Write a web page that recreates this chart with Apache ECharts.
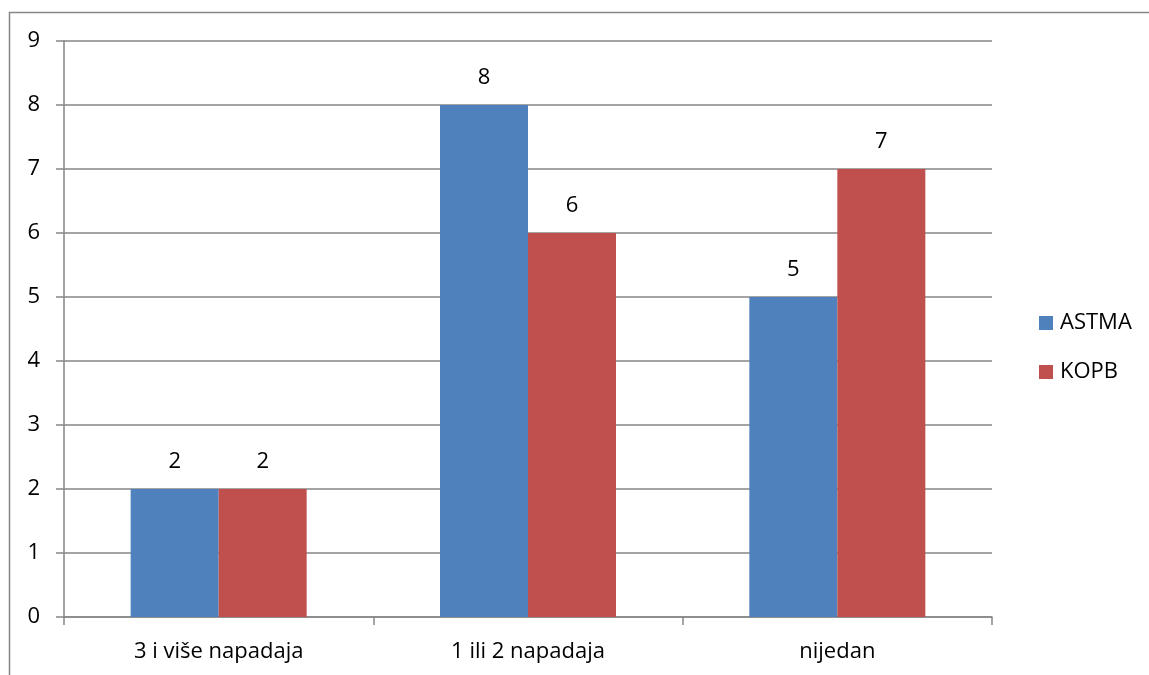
<!DOCTYPE html>
<html><head><meta charset="utf-8">
<script src="https://cdn.jsdelivr.net/npm/echarts@6/dist/echarts.min.js"></script>
<style>html,body{margin:0;padding:0;background:#fff}#c{width:1149px;height:675px}</style>
</head><body><div id="c"></div>
<script>
const categories = ['3 i više napadaja', '1 ili 2 napadaja', 'nijedan'];
const astma = [2, 8, 5];
const kopb = [2, 6, 7];
const yTicks = [0, 9, 1];
const font = 'Open Sans';
const fs = 22;
const chart = echarts.init(document.getElementById('c'), null, {renderer: 'canvas'});
const lbl = {show: true, position: 'top', distance: 16, color: '#000', fontSize: fs, fontFamily: font};
chart.setOption({
  animation: false,
  graphic: [{type: 'rect', shape: {x: 9.5, y: 12.5, width: 1200, height: 700}, style: {fill: 'none', stroke: '#868686', lineWidth: 1.5}}],
  grid: {left: 64, right: 157, top: 41, bottom: 58},
  legend: {
    orient: 'vertical', left: 1034, top: 307, itemWidth: 14, itemHeight: 14, itemGap: 27, icon: 'rect',
    textStyle: {fontSize: fs, lineHeight: 22, fontFamily: font, color: '#000', padding: [0, 0, 0, 2]},
    data: ['ASTMA', 'KOPB']
  },
  xAxis: {
    type: 'category', data: categories,
    axisLine: {lineStyle: {color: '#868686', width: 1.5}},
    axisTick: {show: true, length: 8, lineStyle: {color: '#868686', width: 1.5}},
    axisLabel: {color: '#000', fontSize: fs, fontFamily: font, margin: 24}
  },
  yAxis: {
    type: 'value', min: yTicks[0], max: yTicks[1], interval: yTicks[2],
    axisLine: {show: true, lineStyle: {color: '#868686', width: 1.5}},
    axisTick: {show: true, length: 8, lineStyle: {color: '#868686', width: 1.5}},
    splitLine: {lineStyle: {color: '#868686', width: 1.5}},
    axisLabel: {color: '#000', fontSize: fs, fontFamily: font, margin: 24}
  },
  series: [
    {name: 'ASTMA', type: 'bar', data: astma, barWidth: 88, barGap: '0%', itemStyle: {color: '#4F81BD'}, label: lbl},
    {name: 'KOPB', type: 'bar', data: kopb, barWidth: 88, barGap: '0%', itemStyle: {color: '#C0504D'}, label: lbl}
  ]
});
</script></body></html>
